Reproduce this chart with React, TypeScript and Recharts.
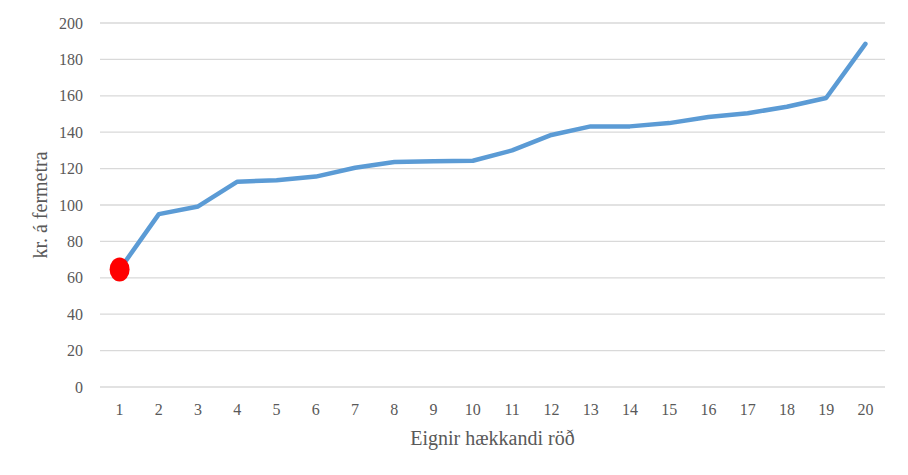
import { LineChart, Line, XAxis, YAxis, CartesianGrid, Label } from 'recharts';

const positions = ['1', '2', '3', '4', '5', '6', '7', '8', '9', '10', '11', '12', '13', '14', '15', '16', '17', '18', '19', '20'];
const pricePerSqm = [64.5, 95, 99.2, 112.8, 113.6, 115.6, 120.5, 123.6, 124.1, 124.3, 130, 138.5, 143.2, 143.2, 145, 148.3, 150.4, 154, 158.8, 188.5];
const yTicks = [0, 20, 40, 60, 80, 100, 120, 140, 160, 180, 200];

const data = positions.map((p, i) => ({ pos: p, value: pricePerSqm[i] }));

const font = 'Liberation Serif, Times New Roman, serif';
const tickStyle = { fontSize: 16, fill: '#595959', fontFamily: font };

// only the first property gets the red marker
function FirstDot(props: any) {
  const { cx, cy, index } = props;
  if (index !== 0) return <g key={index} />;
  return <ellipse key={index} cx={cx} cy={cy} rx={10} ry={12} fill="#ff0000" />;
}

function YTitle({ viewBox }: any) {
  const x = viewBox.x + 20;
  const y = viewBox.y + viewBox.height / 2;
  return (
    <text x={x} y={y} transform={`rotate(-90, ${x}, ${y})`} textAnchor="middle" dominantBaseline="central"
      fontSize={20} fill="#595959" fontFamily={font}>
      kr. á fermetra
    </text>
  );
}

function XTitle({ viewBox }: any) {
  const x = viewBox.x + viewBox.width / 2;
  const y = viewBox.y + 51;
  return (
    <text x={x} y={y} textAnchor="middle" dominantBaseline="central"
      fontSize={20} fill="#595959" fontFamily={font}>
      Eignir hækkandi  röð
    </text>
  );
}

export default function App() {
  return (
    <div style={{ position: 'absolute', left: 0, top: 0, background: '#fff', fontFamily: font }}>
      <LineChart width={908} height={475} data={data} margin={{ top: 23, right: 23, bottom: 10, left: 20 }}>
        <CartesianGrid vertical={false} stroke="#d9d9d9" strokeWidth={1.3} />
        <XAxis
          dataKey="pos"
          axisLine={false}
          tickLine={false}
          tickSize={0}
          tickMargin={17}
          height={78}
          padding={{ left: 19.6, right: 19.6 }}
          tick={tickStyle}
          interval={0}
        >
          <Label content={<XTitle />} />
        </XAxis>
        <YAxis
          domain={[0, 200]}
          ticks={yTicks}
          axisLine={false}
          tickLine={false}
          tickSize={0}
          tickMargin={17}
          width={80}
          tick={tickStyle}
        >
          <Label content={<YTitle />} />
        </YAxis>
        <Line
          type="linear"
          dataKey="value"
          stroke="#5b9bd5"
          strokeWidth={4.5}
          strokeLinejoin="round"
          strokeLinecap="round"
          dot={<FirstDot />}
          activeDot={false}
          isAnimationActive={false}
        />
      </LineChart>
    </div>
  );
}
